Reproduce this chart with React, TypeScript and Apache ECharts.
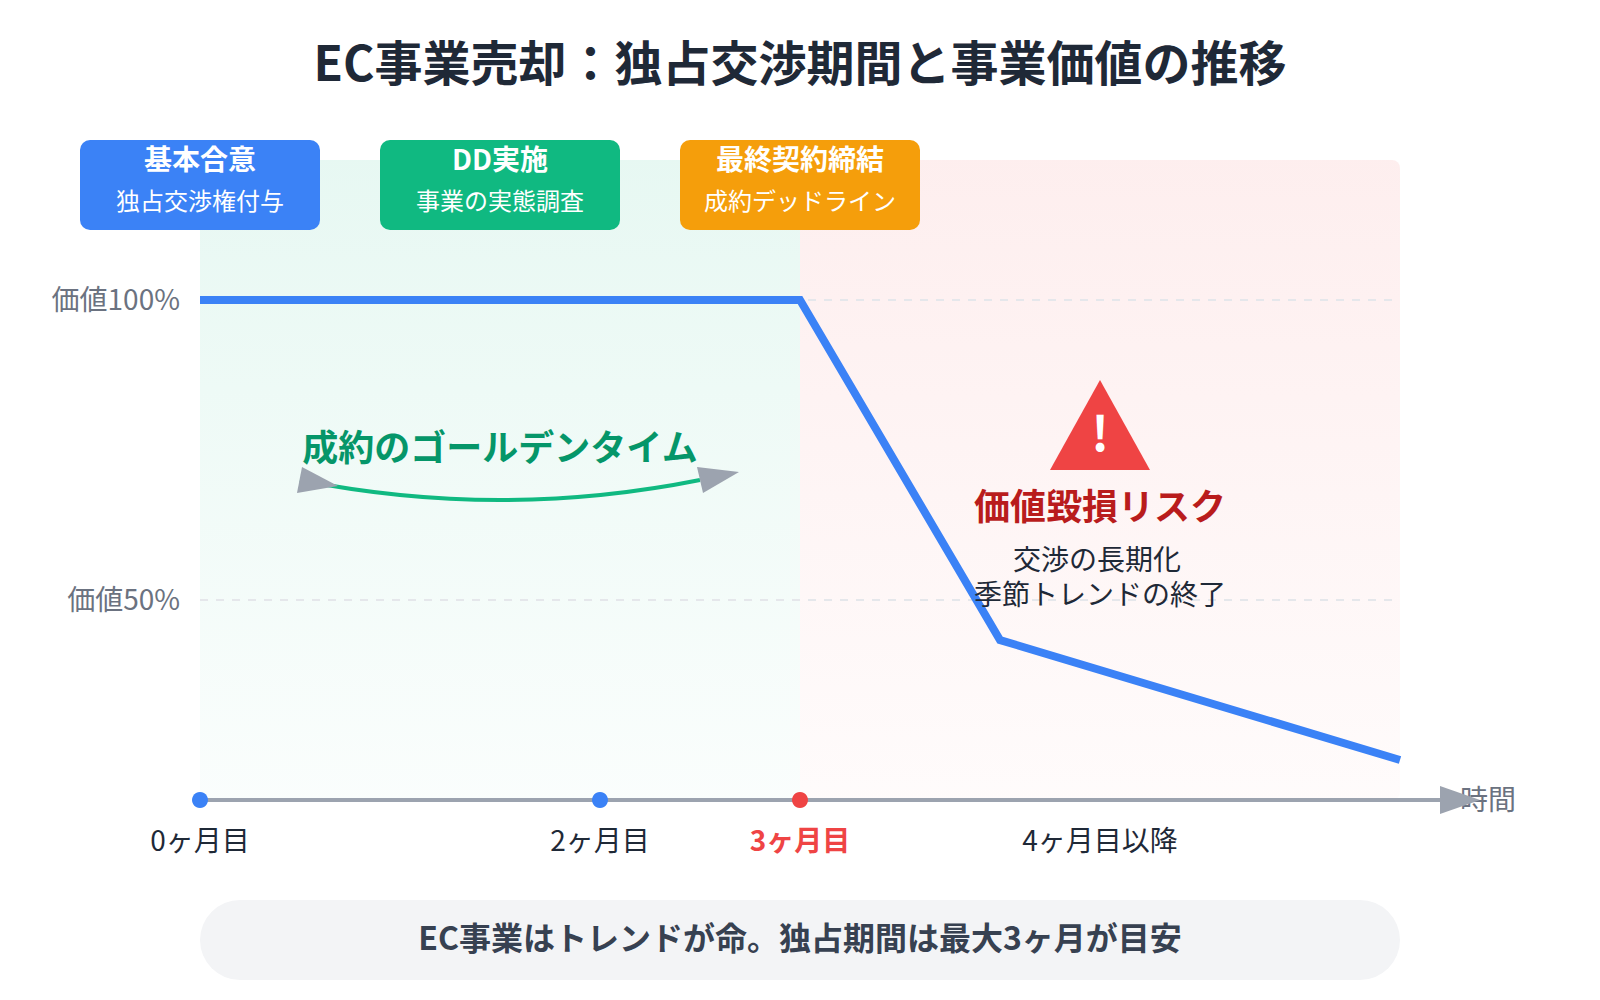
import React, { useEffect, useRef } from "react";
import * as echarts from "echarts";

const FONT = '"Noto Sans CJK JP", "Noto Sans", sans-serif';

const titleText = "EC事業売却：独占交渉期間と事業価値の推移";
const valueLine: [number, number][] = [[0, 100], [3, 100], [4, 43.33], [6, 23.33]];
const monthTicks = [0, 2, 3, 4.5];
const monthLabels = ["0ヶ月目", "2ヶ月目", "3ヶ月目", "4ヶ月目以降"];
const valueTicks = [50, 100];
const valueLabels = ["価値50%", "価値100%"];
const milestones: [number, number][] = [[0, 0], [2, 0], [3, 1]];
const regions: [number, number, number][] = [[0, 3, 0], [3, 6, 1]];
const Y_MIN = 100 - 500 / 6;
const Y_MAX = 100 + 140 / 6;

const phaseTitles = ["基本合意", "DD実施", "最終契約締結"];
const phaseSubs = ["独占交渉権付与", "事業の実態調査", "成約デッドライン"];
const phaseColors = ["#3b82f6", "#10b981", "#f59e0b"];

const GOLDEN = "成約のゴールデンタイム";
const RISK = "価値毀損リスク";
const RISK_L1 = "交渉の長期化";
const RISK_L2 = "季節トレンドの終了";
const NOTE = "EC事業はトレンドが命。独占期間は最大3ヶ月が目安";

function txt(x: number, y: number, text: string, fontSize: number, fill: string, fontWeight: any = "normal") {
  return {
    type: "text", x, y, z: 20, silent: true,
    style: { text, fontSize, fontWeight, fill, fontFamily: FONT, align: "center", verticalAlign: "middle" },
  };
}

export default function App() {
  const ref = useRef<HTMLDivElement>(null);
  useEffect(() => {
    const chart = echarts.init(ref.current!, undefined, { renderer: "svg" });
    const gradient = (rgb: string, top: number) => ({
      type: "linear", x: 0, y: 0, x2: 0, y2: 1,
      colorStops: [
        { offset: 0, color: `rgba(${rgb},${top})` },
        { offset: 1, color: `rgba(${rgb},0.02)` },
      ],
    });
    const shifted = { fontSize: 28, color: "#6b7280", fontFamily: FONT, padding: [0, 0, 4, 0] };
    chart.setOption({
      animation: false,
      backgroundColor: "#ffffff",
      title: {
        text: titleText, left: "center", top: 24.5,
        textStyle: { fontSize: 48, fontWeight: "bold", color: "#1f2937", fontFamily: FONT, lineHeight: 60 },
      },
      grid: { left: 200, top: 160, width: 1260, height: 640, containLabel: false },
      xAxis: {
        type: "value", min: 0, max: 6.3, splitLine: { show: false },
        name: "{s|時間}", nameLocation: "end", nameGap: 0,
        nameTextStyle: { fontSize: 28, color: "#6b7280", fontFamily: FONT, align: "left", verticalAlign: "middle", rich: { s: shifted } },
        axisLine: {
          show: true, onZero: false, symbol: ["none", "triangle"], symbolSize: [28, 40],
          lineStyle: { color: "#9ca3af", width: 4 },
        },
        axisTick: { show: false },
        axisLabel: {
          customValues: monthTicks, margin: 24.5, fontSize: 28, color: "#1f2937", fontFamily: FONT,
          formatter: (v: number) => {
            const l = monthLabels[monthTicks.indexOf(v)] ?? "";
            return v === 3 ? `{hot|${l}}` : l;
          },
          rich: { hot: { fontSize: 28, fontWeight: "bold", color: "#ef4444", fontFamily: FONT } },
        },
      },
      yAxis: {
        type: "value", min: Y_MIN, max: Y_MAX, splitLine: { show: false },
        axisLine: { show: false }, axisTick: { show: false },
        axisLabel: {
          customValues: valueTicks, margin: 20, fontSize: 28, color: "#6b7280", fontFamily: FONT,
          formatter: (v: number) => `{s|${valueLabels[valueTicks.indexOf(v)] ?? ""}}`,
          rich: { s: shifted },
        },
      },
      series: [
        {
          type: "custom", z: 0, silent: true, clip: false, data: regions,
          encode: { x: [0, 1] },
          renderItem: (_: any, api: any) => {
            const a = api.coord([api.value(0), Y_MAX]);
            const b = api.coord([api.value(1), Y_MIN]);
            const red = api.value(2) === 1;
            return {
              type: "rect",
              shape: { x: a[0], y: a[1], width: b[0] - a[0], height: b[1] - a[1], r: red ? [0, 8, 8, 0] : [8, 0, 0, 8] },
              style: { fill: red ? gradient("239,68,68", 0.09) : gradient("16,185,129", 0.1) },
            };
          },
        },
        {
          type: "line", z: 1, data: [], silent: true,
          markLine: {
            z: 1, silent: true, symbol: "none", label: { show: false }, animation: false,
            lineStyle: { color: "#e5e7eb", width: 2, type: [8, 8] },
            data: valueTicks.map((v) => [{ coord: [0, v] }, { coord: [6, v] }]),
          },
        },
        {
          type: "line", z: 3, data: valueLine, showSymbol: false, silent: true, clip: false,
          lineStyle: { color: "#3b82f6", width: 8, cap: "butt", join: "miter" },
        },
        {
          type: "scatter", z: 5, data: milestones.map((m) => [m[0], Y_MIN, m[1]]), symbolSize: 16, clip: false, silent: true,
          itemStyle: { opacity: 1, color: (p: any) => (p.data[2] === 1 ? "#ef4444" : "#3b82f6") },
        },
      ],
      graphic: [
        ...phaseTitles.flatMap((t, i) => {
          const cx = 200 + i * 300;
          return [
            { type: "rect", z: 15, silent: true, shape: { x: cx - 120, y: 140, width: 240, height: 90, r: 10 }, style: { fill: phaseColors[i] } },
            txt(cx, 158, t, 28, "#ffffff", "bold"),
            txt(cx, 199, phaseSubs[i], 24, "#ffffff"),
          ];
        }),
        txt(500, 444.5, GOLDEN, 36, "#059669", "bold"),
        { type: "bezierCurve", z: 12, silent: true, shape: { x1: 300, y1: 480, cpx1: 500, cpy1: 520, x2: 700, y2: 480 }, style: { stroke: "#10b981", lineWidth: 4, fill: "none" } },
        { type: "polygon", z: 13, silent: true, shape: { points: [[302, 467], [338, 486], [297, 493]] }, style: { fill: "#9ca3af" } },
        { type: "polygon", z: 13, silent: true, shape: { points: [[697, 467], [739, 472], [703, 493]] }, style: { fill: "#9ca3af" } },
        { type: "polygon", z: 13, silent: true, shape: { points: [[1100, 380], [1150, 470], [1050, 470]] }, style: { fill: "#ef4444" } },
        txt(1100, 430, "!", 48, "#ffffff", "bold"),
        txt(1100, 504, RISK, 36, "#b91c1c", "bold"),
        txt(1097, 558, RISK_L1, 28, "#1f2937"),
        txt(1100, 593, RISK_L2, 28, "#1f2937"),
        { type: "rect", z: 15, silent: true, shape: { x: 200, y: 900, width: 1200, height: 80, r: 40 }, style: { fill: "#f3f4f6" } },
        txt(800, 936, NOTE, 32, "#374151", "bold"),
      ],
    });
    return () => chart.dispose();
  }, []);
  return <div ref={ref} style={{ position: "absolute", left: 0, top: 0, width: 1600, height: 1000 }} />;
}
